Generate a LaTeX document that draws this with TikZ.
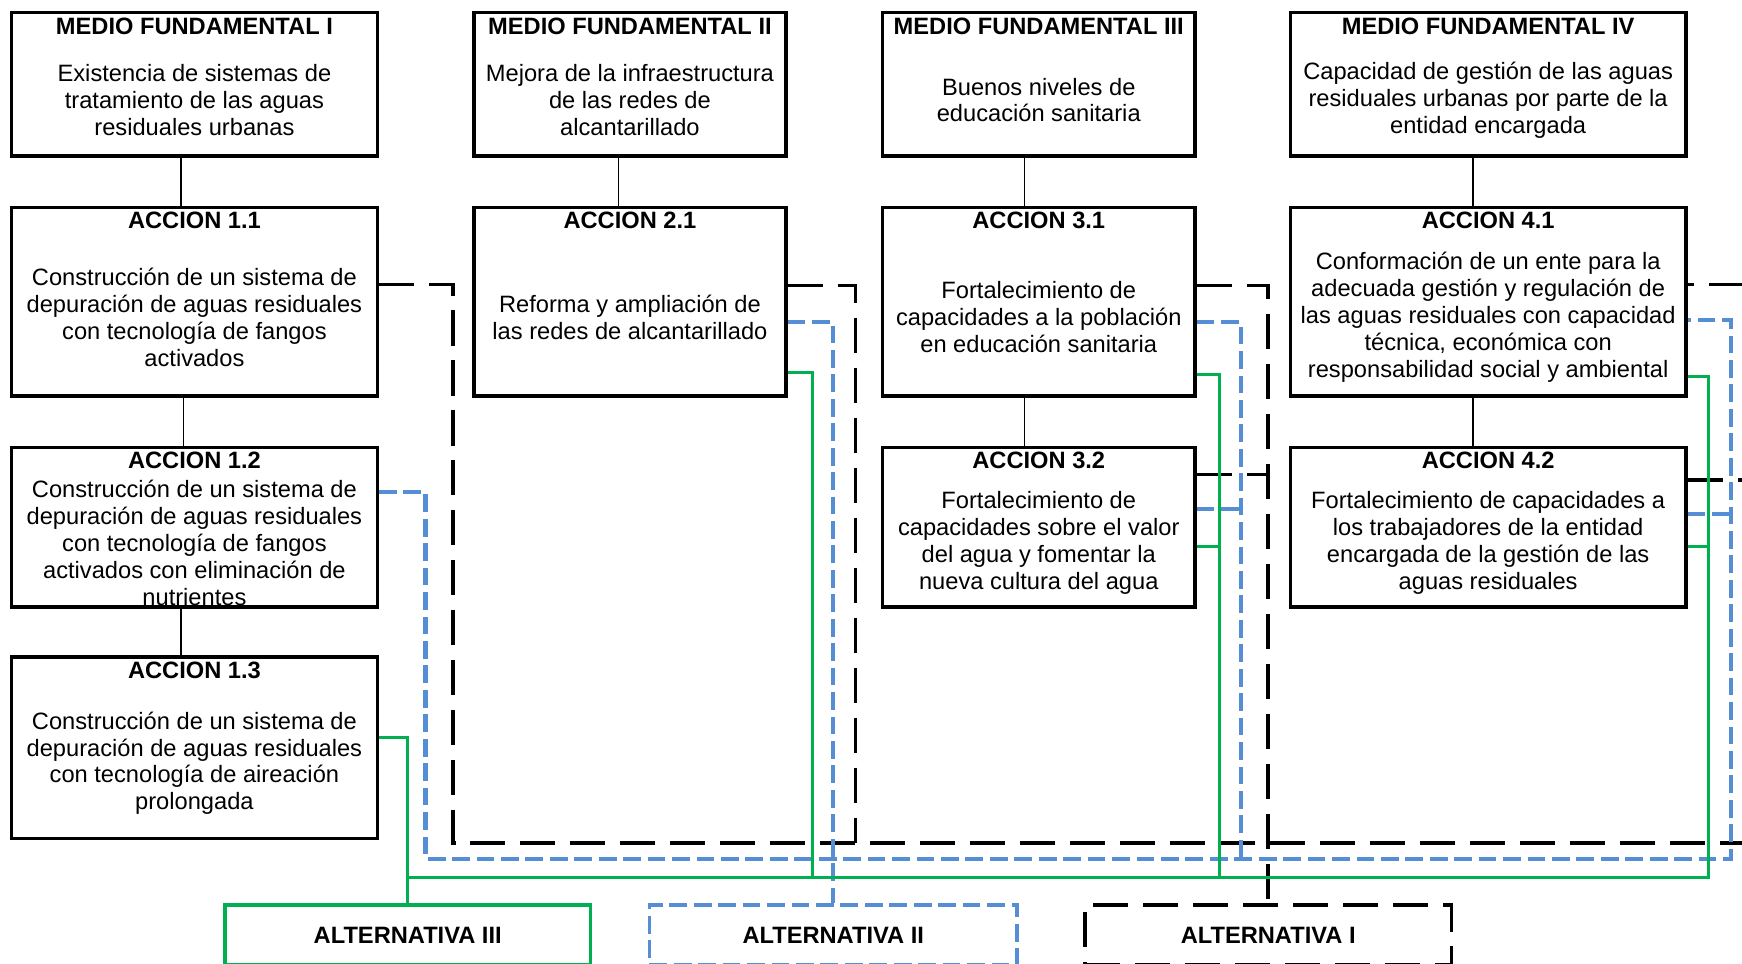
\documentclass[tikz,border=0pt]{standalone}
\usepackage{fontspec}
\setmainfont{Liberation Sans}
\usepackage{tikz}
\definecolor{azulalt}{RGB}{85,142,213}
\definecolor{verdealt}{RGB}{0,176,80}
\tikzset{
    caja/.style={draw, line width=3pt, inner sep=0pt, anchor=north west},
    titulo/.style={font={\fontsize{21.3}{24.2}\selectfont\bfseries}, inner sep=0pt, anchor=north, yshift=-6pt},
    texto/.style={font={\fontsize{21.3}{24.2}\selectfont}, align=center, inner sep=0pt, yshift=-14pt},
    altcaja/.style={caja, minimum height=54pt, font={\fontsize{21.3}{24.2}\selectfont\bfseries}},
    enlace/.style={line width=1.2pt},
    altuno/.style={line width=3.4pt, dash pattern=on 32pt off 13pt},
    altdos/.style={azulalt, line width=3.8pt, dash pattern=on 16pt off 6pt},
    alttres/.style={verdealt, line width=2.8pt},
}
\begin{document}
\begin{tikzpicture}[x=1pt,y=-1pt]
\useasboundingbox (0,0) rectangle (1568,867);
\node[caja, minimum width=329pt, minimum height=129pt, label={[titulo]north:MEDIO FUNDAMENTAL I}, label={[texto]center:Existencia de sistemas de\\tratamiento de las aguas\\residuales urbanas}] (mf1) at (9,10) {};
\node[caja, minimum width=281pt, minimum height=129pt, label={[titulo]north:MEDIO FUNDAMENTAL II}, label={[texto]center:Mejora de la infraestructura\\de las redes de\\alcantarillado}] (mf2) at (425,10) {};
\node[caja, minimum width=281pt, minimum height=129pt, label={[titulo]north:MEDIO FUNDAMENTAL III}, label={[texto]center:Buenos niveles de\\educación sanitaria}] (mf3) at (793,10) {};
\node[caja, minimum width=356pt, minimum height=129pt, label={[titulo]north:MEDIO FUNDAMENTAL IV}, label={[texto]center:Capacidad de gestión de las aguas\\residuales urbanas por parte de la\\entidad encargada}] (mf4) at (1160,10) {};
\node[caja, minimum width=329pt, minimum height=170pt, label={[titulo]north:ACCION 1.1}, label={[texto]center:Construcción de un sistema de\\depuración de aguas residuales\\con tecnología de fangos\\activados}] (a11) at (9,185) {};
\node[caja, minimum width=281pt, minimum height=170pt, label={[titulo]north:ACCION 2.1}, label={[texto]center:Reforma y ampliación de\\las redes de alcantarillado}] (a21) at (425,185) {};
\node[caja, minimum width=281pt, minimum height=170pt, label={[titulo]north:ACCION 3.1}, label={[texto]center:Fortalecimiento de\\capacidades a la población\\en educación sanitaria}] (a31) at (793,185) {};
\node[caja, minimum width=356pt, minimum height=170pt, label={[titulo]north:ACCION 4.1}, label={[texto]center:Conformación de un ente para la\\adecuada gestión y regulación de\\las aguas residuales con capacidad\\técnica, económica con\\responsabilidad social y ambiental}] (a41) at (1160,185) {};
\node[caja, minimum width=329pt, minimum height=144pt, label={[titulo]north:ACCION 1.2}, label={[texto]center:Construcción de un sistema de\\depuración de aguas residuales\\con tecnología de fangos\\activados con eliminación de\\nutrientes}] (a12) at (9,401) {};
\node[caja, minimum width=281pt, minimum height=144pt, label={[titulo]north:ACCION 3.2}, label={[texto]center:Fortalecimiento de\\capacidades sobre el valor\\del agua y fomentar la\\nueva cultura del agua}] (a32) at (793,401) {};
\node[caja, minimum width=356pt, minimum height=144pt, label={[titulo]north:ACCION 4.2}, label={[texto]center:Fortalecimiento de capacidades a\\los trabajadores de la entidad\\encargada de la gestión de las\\aguas residuales}] (a42) at (1160,401) {};
\node[caja, minimum width=329pt, minimum height=163pt, label={[titulo]north:ACCION 1.3}, label={[texto]center:Construcción de un sistema de\\depuración de aguas residuales\\con tecnología de aireación\\prolongada}] (a13) at (9,590) {};
\node[altcaja, verdealt, text=black, minimum width=329pt] (alt3) at (201,813) {ALTERNATIVA III};
\node[altcaja, azulalt, text=black, dash pattern=on 16pt off 6pt, minimum width=331pt] (alt2) at (583,813) {ALTERNATIVA II};
\node[altcaja, dash pattern=on 32pt off 13pt, minimum width=330pt] (alt1) at (975,813) {ALTERNATIVA I};

\draw[enlace] (mf1.south -| 163,0) -- (a11.north -| 163,0);
\draw[enlace] (mf2.south -| 557,0) -- (a21.north -| 557,0);
\draw[enlace] (mf3.south -| 922,0) -- (a31.north -| 922,0);
\draw[enlace] (mf4.south -| 1326,0) -- (a41.north -| 1326,0);
\draw[enlace] (a11.south -| 165,0) -- (a12.north -| 165,0);
\draw[enlace] (a12.south -| 163,0) -- (a13.north -| 163,0);
\draw[enlace] (a31.south -| 922,0) -- (a32.north -| 922,0);
\draw[enlace] (a41.south -| 1326,0) -- (a42.north -| 1326,0);

\draw[altuno] (a11.east |- 0,256) -| (408,759) -- (1600,759) |- (a41.east |- 0,256);
\draw[altuno] (a21.east |- 0,257) -| (770,759);
\draw[altuno] (a31.east |- 0,257) -| (alt1.north);
\draw[altuno] (a32.east |- 0,427) -- (alt1.north |- 0,427);
\draw[altuno] (a42.east |- 0,432) -- (1600,432);

\draw[altdos] (a12.east |- 0,443) -| (383,773) -- (1558,773) |- (a41.east |- 0,288);
\draw[altdos] (a21.east |- 0,290) -| (alt2.north);
\draw[altdos] (a31.east |- 0,290) -| (1117,773);
\draw[altdos] (a32.east |- 0,458) -- (1117,458);
\draw[altdos] (a42.east |- 0,463) -- (1558,463);

\draw[alttres] (a13.east |- 0,664) -| (alt3.north);
\draw[alttres] (alt3.north |- 0,790) -| (1538,339) -- (a41.east |- 0,339);
\draw[alttres] (a21.east |- 0,335) -| (731,790);
\draw[alttres] (a31.east |- 0,337) -| (1098,790);
\draw[alttres] (a32.east |- 0,492) -- (1098,492);
\draw[alttres] (a42.east |- 0,492) -- (1538,492);
\end{tikzpicture}
\end{document}
